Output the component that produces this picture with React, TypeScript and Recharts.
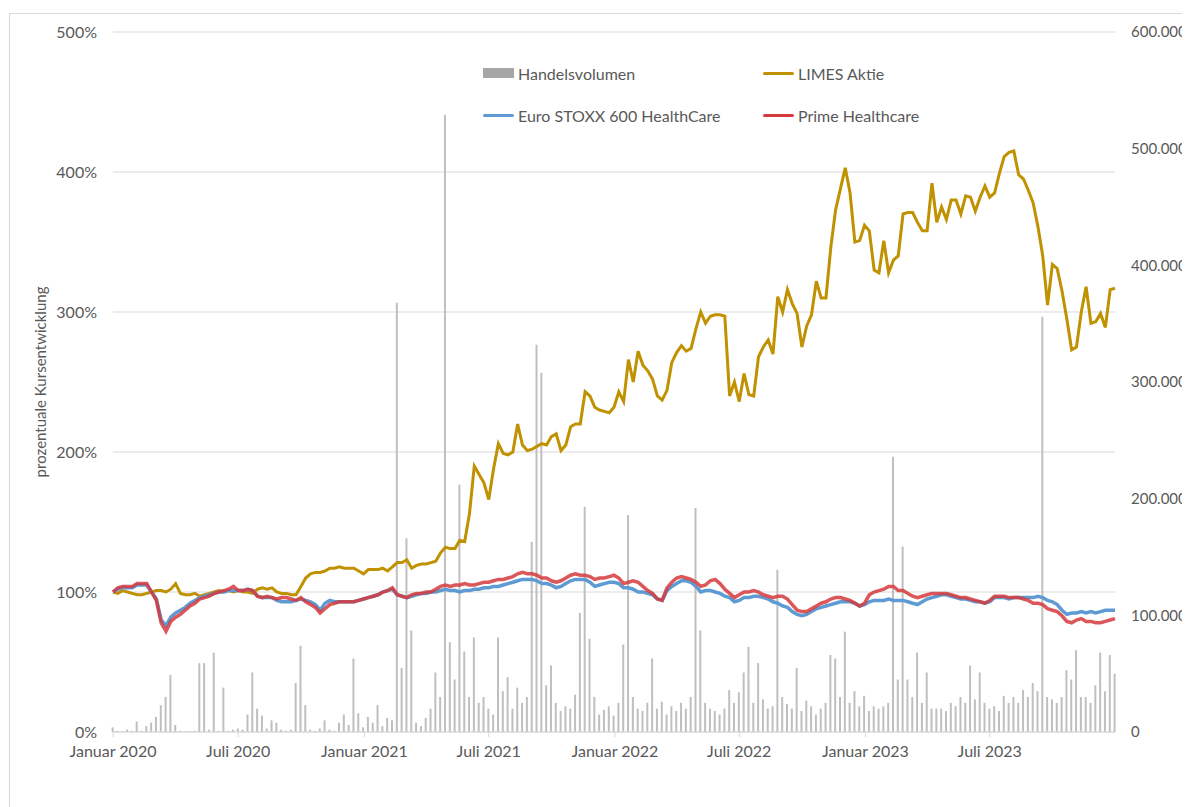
import { ComposedChart, Line, Bar, XAxis, YAxis, CartesianGrid } from 'recharts';

const FONT = 'Lato, "Open Sans", sans-serif';
const INK = '#595959';
const GRID = '#d9d9d9';
const GOLD = '#c09100';
const BLUE = '#5f9bd3';
const RED = '#d63a3c';
const VOL = '#bfbfbf';

// x axis: weekly index, Jan 2020 .. Dec 2023
const tickWeeks = [0, 26, 52.2, 78, 104.2, 130, 156.2, 182];
const tickLabels = ['Januar 2020', 'Juli 2020', 'Januar 2021', 'Juli 2021', 'Januar 2022', 'Juli 2022', 'Januar 2023', 'Juli 2023'];
const pctTicks = [0, 100, 200, 300, 400, 500];
const volTicks = [0, 100000, 200000, 300000, 400000, 500000, 600000];

// LIMES Aktie, % (weekly)
const limes = [
  100, 99, 101, 100, 99, 98, 98, 99, 100, 101,
  101, 100, 102, 106, 99, 98, 98, 99, 97, 98,
  99, 100, 101, 100, 101, 100, 101, 100, 100, 99,
  102, 103, 102, 103, 100, 99, 99, 98, 98, 104,
  110, 113, 114, 114, 115, 117, 117, 118, 117, 117,
  117, 115, 113, 116, 116, 116, 117, 115, 118, 121,
  121, 123, 117, 119, 120, 120, 121, 122, 128, 132,
  131, 131, 137, 136, 156, 190, 184, 178, 166, 188,
  206, 199, 198, 200, 220, 205, 201, 202, 204, 206,
  205, 211, 213, 201, 205, 218, 220, 220, 243, 240,
  232, 230, 229, 228, 232, 243, 236, 266, 250, 272,
  262, 258, 252, 240, 237, 244, 264, 271, 276, 272,
  274, 288, 300, 292, 297, 298, 298, 297, 240, 250,
  236, 256, 241, 240, 268, 275, 280, 270, 311, 300,
  316, 306, 299, 275, 290, 298, 322, 310, 310, 346,
  373, 388, 403, 385, 350, 351, 362, 358, 330, 328,
  351, 328, 337, 340, 370, 371, 371, 364, 358, 358,
  392, 364, 375, 366, 380, 380, 370, 383, 382, 372,
  382, 390, 382, 385, 399, 411, 414, 415, 398, 395,
  387, 378, 361, 340, 305, 334, 331, 315, 295, 273,
  275, 300, 318, 292, 293, 299, 289, 316, 317,
];

// Euro STOXX 600 HealthCare, %
const stoxx = [
  100, 102, 103, 103, 103, 105, 105, 105, 100, 95,
  80, 76, 82, 85, 87, 89, 92, 94, 96, 97,
  98, 99, 100, 100, 101, 101, 101, 101, 102, 101,
  97, 96, 96, 96, 94, 93, 93, 93, 94, 95,
  94, 93, 91, 87, 92, 94, 93, 93, 93, 93,
  93, 94, 95, 96, 97, 98, 100, 101, 102, 98,
  97, 96, 97, 98, 99, 99, 100, 100, 101, 102,
  101, 101, 100, 101, 101, 102, 102, 103, 103, 104,
  104, 105, 106, 107, 108, 109, 109, 109, 108, 106,
  106, 105, 103, 104, 106, 108, 109, 109, 109, 107,
  104, 105, 106, 107, 107, 106, 103, 103, 102, 100,
  100, 99, 98, 95, 94, 101, 104, 106, 108, 108,
  107, 104, 100, 101, 101, 100, 99, 97, 96, 93,
  94, 96, 96, 97, 97, 96, 95, 93, 92, 90,
  89, 86, 84, 83, 84, 86, 88, 89, 90, 91,
  92, 93, 93, 93, 92, 90, 91, 93, 94, 94,
  94, 95, 94, 94, 94, 93, 92, 91, 93, 95,
  96, 97, 98, 98, 97, 96, 95, 95, 94, 93,
  93, 92, 93, 96, 96, 96, 95, 96, 96, 96,
  96, 96, 97, 96, 94, 93, 91, 87, 84, 85,
  85, 86, 85, 86, 85, 86, 87, 87, 87,
];

// Prime Healthcare, %
const prime = [
  100, 103, 104, 104, 104, 106, 106, 106, 100, 94,
  78, 72, 79, 82, 84, 87, 90, 92, 95, 96,
  97, 99, 100, 101, 102, 104, 101, 101, 102, 101,
  97, 96, 97, 96, 95, 96, 96, 95, 94, 96,
  93, 91, 89, 85, 88, 91, 92, 93, 93, 93,
  93, 94, 95, 96, 97, 98, 100, 101, 103, 98,
  97, 96, 98, 99, 99, 100, 100, 102, 104, 105,
  104, 105, 105, 106, 105, 105, 106, 107, 107, 108,
  109, 109, 110, 111, 113, 114, 113, 113, 112, 110,
  110, 108, 107, 108, 110, 112, 113, 112, 112, 111,
  109, 110, 110, 111, 112, 110, 106, 107, 108, 107,
  104, 101, 99, 95, 94, 103, 107, 110, 111, 110,
  109, 107, 104, 105, 108, 109, 106, 102, 99, 96,
  98, 100, 100, 101, 100, 98, 97, 96, 97, 97,
  95, 91, 87, 86, 86, 88, 90, 92, 93, 95,
  96, 96, 95, 94, 92, 90, 92, 98, 100, 101,
  102, 104, 104, 101, 101, 99, 97, 96, 97, 98,
  99, 99, 99, 99, 98, 97, 96, 96, 95, 94,
  93, 92, 94, 97, 97, 97, 96, 96, 96, 95,
  94, 92, 92, 91, 88, 87, 86, 83, 79, 78,
  80, 81, 79, 79, 78, 78, 79, 80, 81,
];

// Handelsvolumen, in thousand shares
const volume = [
  4, 1, 0.5, 2, 1, 9, 1, 5, 8, 13,
  23, 30, 49, 6, 1, 0.5, 0.5, 1, 59, 59,
  2, 68, 1, 38, 1, 2, 3, 2, 15, 51,
  20, 14, 3, 10, 8, 2, 1, 2, 42, 74,
  23, 2, 1, 3, 10, 2, 1, 8, 15, 6,
  63, 16, 4, 13, 8, 23, 5, 12, 10, 368,
  55, 166, 87, 8, 5, 12, 20, 51, 30, 529,
  77, 45, 212, 69, 30, 81, 25, 30, 20, 15,
  81, 35, 47, 20, 38, 25, 30, 163, 332, 308,
  40, 57, 25, 18, 22, 20, 32, 102, 193, 80,
  30, 15, 19, 22, 14, 25, 75, 186, 30, 20,
  18, 25, 63, 20, 26, 15, 22, 18, 25, 20,
  30, 192, 87, 25, 20, 18, 15, 20, 36, 25,
  34, 51, 73, 25, 59, 28, 20, 22, 139, 30,
  24, 20, 55, 18, 27, 22, 15, 20, 25, 66,
  63, 30, 86, 25, 35, 22, 31, 18, 22, 20,
  22, 25, 236, 45, 159, 45, 30, 68, 25, 51,
  20, 20, 20, 18, 25, 22, 30, 25, 57, 28,
  51, 25, 20, 22, 18, 31, 25, 30, 25, 36,
  30, 42, 35, 356, 30, 28, 25, 30, 53, 45,
  70, 30, 30, 25, 40, 68, 35, 66, 50,
];

const rows = limes.map((v, i) => ({
  w: i,
  limes: v,
  stoxx: stoxx[i],
  prime: prime[i],
  vol: volume[i] * 1000,
}));

const fmtVol = (v: number) => String(v).replace(/\B(?=(\d{3})+(?!\d))/g, '.');
const fmtWeek = (v: number) => tickLabels[tickWeeks.indexOf(v)] ?? '';

const tickStyle = { fill: INK, fontSize: 16, fontFamily: FONT };

function LegendItem({ x, y, label, color, box }: { x: number; y: number; label: string; color: string; box?: boolean }) {
  return (
    <div style={{ position: 'absolute', left: x, top: y - 11, height: 22, display: 'flex', alignItems: 'center', whiteSpace: 'nowrap' }}>
      <span style={{ display: 'inline-block', width: 31, height: box ? 10 : 3, background: color, marginRight: 4, borderRadius: box ? 0 : 2 }} />
      <span style={{ color: INK, fontSize: 16, fontFamily: FONT }}>{label}</span>
    </div>
  );
}

function YLabel() {
  return (
    <text x={32} y={368} transform="rotate(-90, 32, 368)" textAnchor="middle" dominantBaseline="middle"
      fill={INK} fontSize={15} fontFamily={FONT}>
      prozentuale Kursentwicklung
    </text>
  );
}

export default function App() {
  return (
    <div style={{ position: 'relative', marginLeft: 1, marginTop: 5, width: 1200, height: 800, border: `1px solid ${GRID}`, background: '#fff' }}>
      <ComposedChart width={1180} height={780} data={rows} margin={{ top: 18, right: 4, bottom: 22, left: 43 }}>
        <CartesianGrid yAxisId="pct" stroke={GRID} vertical={false} />
        <XAxis dataKey="w" type="number" domain={[0, 208]} ticks={tickWeeks} interval={0} tickFormatter={fmtWeek}
          height={40} tick={tickStyle} tickSize={5} tickMargin={9} stroke={GRID} axisLine={{ stroke: GRID }} tickLine={{ stroke: GRID }} />
        <YAxis yAxisId="pct" orientation="left" domain={[0, 500]} ticks={pctTicks} width={60}
          tickFormatter={(v: number) => `${v}%`} tick={tickStyle} axisLine={false} tickLine={false} tickMargin={10}
          label={<YLabel />} />
        <YAxis yAxisId="vol" orientation="right" domain={[0, 600000]} ticks={volTicks} width={71}
          tickFormatter={fmtVol} tick={{ ...tickStyle, fontSize: 15 }} axisLine={false} tickLine={false} tickMargin={10} />
        <Bar yAxisId="vol" dataKey="vol" name="Handelsvolumen" fill={VOL} barSize={2} isAnimationActive={false} />
        <Line yAxisId="pct" dataKey="limes" name="LIMES Aktie" stroke={GOLD} strokeWidth={3} dot={false} type="linear" isAnimationActive={false} />
        <Line yAxisId="pct" dataKey="stoxx" name="Euro STOXX 600 HealthCare" stroke={BLUE} strokeWidth={3.5} dot={false} type="linear" isAnimationActive={false} />
        <Line yAxisId="pct" dataKey="prime" name="Prime Healthcare" stroke={RED} strokeOpacity={0.85} strokeWidth={3.5} dot={false} type="linear" isAnimationActive={false} />
      </ComposedChart>
      <LegendItem x={473} y={59} label="Handelsvolumen" color="#a6a6a6" box />
      <LegendItem x={753} y={59} label="LIMES Aktie" color={GOLD} />
      <LegendItem x={473} y={101} label="Euro STOXX 600 HealthCare" color={BLUE} />
      <LegendItem x={753} y={101} label="Prime Healthcare" color={RED} />
    </div>
  );
}
